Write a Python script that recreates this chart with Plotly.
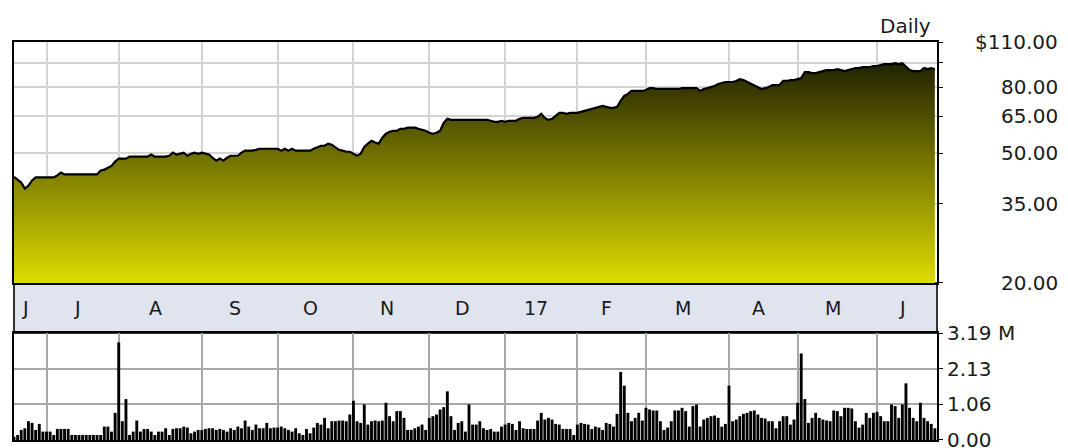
import numpy as np
import pandas as pd
import plotly.graph_objects as go

# trading days, Jun 2016 - Jun 2017
holidays = ["2016-07-04", "2016-09-05", "2016-11-24", "2016-12-26", "2017-01-02",
            "2017-01-16", "2017-02-20", "2017-04-14", "2017-05-29"]
days = pd.bdate_range("2016-06-20", "2017-06-23")
days = days[~days.isin(pd.to_datetime(holidays))]

month_labels = ["J", "J", "A", "S", "O", "N", "D", "17", "F", "M", "A", "M", "J"]

price = [
    42.4, 41.6, 40.7, 39.0, 39.8, 41.3, 42.2, 42.2, 42.2, 42.2, 42.2, 42.2, 42.8, 43.7, 43.1, 43.1,
    43.1, 43.1, 43.1, 43.1, 43.1, 43.1, 43.1, 43.1, 44.3, 44.6, 45.2, 45.8, 47.2, 48.2, 48.2, 48.2,
    48.9, 48.9, 48.9, 48.9, 48.9, 48.9, 49.6, 48.9, 48.9, 48.9, 48.9, 49.2, 50.3, 49.6, 49.9, 50.3,
    49.2, 49.9, 50.3, 49.9, 50.3, 49.9, 49.6, 48.5, 47.5, 48.2, 47.5, 48.5, 49.2, 49.2, 49.2, 50.3,
    51.0, 51.0, 51.0, 51.3, 51.7, 51.7, 51.7, 51.7, 51.7, 51.7, 51.0, 51.7, 51.0, 51.7, 51.0, 51.0,
    51.0, 51.0, 51.0, 51.7, 52.4, 52.8, 52.8, 53.6, 53.2, 52.1, 51.3, 51.0, 50.6, 50.6, 49.9, 49.2,
    49.9, 52.4, 53.6, 54.7, 54.0, 53.6, 55.9, 57.5, 58.3, 58.7, 58.7, 59.5, 59.5, 60.0, 60.0, 60.0,
    59.5, 59.1, 58.7, 57.9, 57.5, 57.9, 58.7, 62.1, 63.9, 63.4, 63.4, 63.4, 63.4, 63.4, 63.4, 63.4,
    63.4, 63.4, 63.4, 63.4, 63.0, 62.5, 62.5, 63.0, 62.5, 63.0, 63.0, 63.0, 63.9, 64.3, 64.3, 64.3,
    64.3, 64.8, 66.2, 64.3, 63.4, 63.9, 65.2, 66.6, 66.6, 66.2, 66.6, 66.6, 66.6, 67.1, 67.6, 68.0,
    68.5, 69.0, 69.5, 70.0, 69.5, 69.0, 69.0, 69.5, 72.5, 75.1, 76.2, 77.8, 77.8, 77.8, 77.8, 78.3,
    79.4, 79.4, 78.9, 78.9, 78.9, 78.9, 78.9, 78.9, 78.9, 79.4, 79.4, 79.4, 79.4, 79.4, 77.8, 78.9,
    79.4, 80.0, 80.6, 81.7, 82.3, 82.9, 82.9, 82.9, 83.5, 84.6, 84.0, 82.9, 81.7, 81.1, 80.0, 78.9,
    79.4, 80.0, 81.1, 81.1, 81.1, 83.5, 83.5, 84.0, 84.0, 84.6, 85.2, 88.9, 88.9, 88.3, 88.3, 88.9,
    89.5, 90.2, 90.2, 90.2, 90.8, 90.2, 89.5, 90.2, 90.8, 91.5, 91.5, 92.1, 92.1, 92.1, 92.8, 92.8,
    93.4, 94.1, 94.1, 94.1, 94.7, 94.1, 94.7, 92.1, 90.2, 89.5, 89.5, 89.5, 91.5, 90.8, 91.5, 90.8,
]

# volume in millions
volume = [
    0.10, 0.15, 0.30, 0.35, 0.56, 0.51, 0.30, 0.48, 0.25, 0.25, 0.25, 0.15, 0.33, 0.33, 0.33, 0.33,
    0.15, 0.15, 0.15, 0.15, 0.15, 0.15, 0.15, 0.15, 0.15, 0.40, 0.40, 0.25, 0.81, 2.91, 0.56, 1.22,
    0.15, 0.25, 0.58, 0.25, 0.33, 0.33, 0.25, 0.15, 0.25, 0.25, 0.35, 0.15, 0.33, 0.35, 0.35, 0.40,
    0.37, 0.20, 0.25, 0.30, 0.30, 0.33, 0.35, 0.35, 0.30, 0.33, 0.30, 0.25, 0.35, 0.30, 0.40, 0.35,
    0.58, 0.40, 0.30, 0.46, 0.35, 0.35, 0.51, 0.35, 0.37, 0.37, 0.40, 0.35, 0.30, 0.25, 0.35, 0.20,
    0.15, 0.33, 0.20, 0.37, 0.51, 0.46, 0.66, 0.35, 0.56, 0.56, 0.58, 0.58, 0.56, 0.76, 1.17, 0.56,
    0.51, 1.06, 0.46, 0.56, 0.58, 0.56, 0.58, 1.11, 0.71, 0.56, 0.86, 0.86, 0.66, 0.30, 0.30, 0.35,
    0.40, 0.46, 0.30, 0.66, 0.71, 0.76, 0.91, 0.98, 1.45, 0.71, 0.30, 0.51, 0.56, 0.25, 1.06, 0.46,
    0.46, 0.56, 0.35, 0.30, 0.33, 0.25, 0.25, 0.40, 0.46, 0.51, 0.48, 0.30, 0.56, 0.35, 0.33, 0.33,
    0.33, 0.58, 0.81, 0.61, 0.66, 0.61, 0.48, 0.46, 0.33, 0.33, 0.33, 0.15, 0.46, 0.51, 0.48, 0.46,
    0.33, 0.40, 0.37, 0.30, 0.51, 0.48, 0.40, 0.78, 2.03, 1.62, 0.81, 0.56, 0.66, 0.81, 0.58, 0.96,
    0.91, 0.88, 0.88, 0.56, 0.30, 0.37, 0.56, 0.88, 0.88, 0.96, 0.86, 0.40, 1.01, 1.06, 0.40, 0.61,
    0.66, 0.71, 0.73, 0.66, 0.40, 0.48, 1.62, 0.56, 0.61, 0.71, 0.78, 0.81, 0.86, 0.88, 0.76, 0.66,
    0.64, 0.56, 0.56, 0.35, 0.56, 0.71, 0.71, 0.46, 0.61, 1.11, 2.58, 1.22, 0.51, 0.66, 0.81, 0.66,
    0.61, 0.58, 0.56, 0.88, 0.86, 0.71, 0.96, 0.96, 0.94, 0.56, 0.37, 0.46, 0.81, 0.66, 0.81, 0.84,
    0.71, 0.56, 0.56, 1.06, 1.01, 0.66, 1.06, 1.69, 0.96, 0.66, 0.56, 1.11, 0.66, 0.56, 0.48, 0.35,
]

price_ticks = [20, 35, 50, 65, 80, 95, 110]
price_labels = {110: "$110.00", 80: "80.00", 65: "65.00", 50: "50.00", 35: "35.00", 20: "20.00"}
vol_ticks = [0, 1.06, 2.13, 3.19]
vol_labels = ["0.00", "1.06", "2.13", "3.19 M"]

idx = np.arange(len(days))
months = pd.Series(idx, index=days).groupby(days.to_period("M"))
month_starts = [g.iloc[0] for _, g in months][1:]
month_mids = [g.mean() for _, g in months]

FONT = "DejaVu Sans"
PRICE_DOM = [0.3945, 1.0]
VOL_DOM = [0.0, 0.2688]
XR = [0, 255.6]

fig = go.Figure()
fig.add_trace(
    go.Scatter(
        x=idx, y=price, mode="lines", xaxis="x", yaxis="y",
        line=dict(color="black", width=2.2),
        fill="tozeroy",
        fillgradient=dict(type="vertical", start=20, stop=110,
                          colorscale=[[0, "#dcdc00"], [1, "#101000"]]),
        hoverinfo="skip",
    )
)
fig.add_trace(
    go.Bar(x=idx, y=volume, xaxis="x2", yaxis="y2", width=0.8,
           marker=dict(color="black", line=dict(width=0)), hoverinfo="skip")
)

grid_light = "#d4d4d4"
grid_dark = "#a8a8a8"
# page body has an 8px margin, so the figure is 8px smaller and margins shifted
fig.update_layout(
    width=1060, height=440,
    margin=dict(l=6, r=131, t=34, b=8, autoexpand=False),
    paper_bgcolor="white", plot_bgcolor="white",
    showlegend=False,
    font=dict(family=FONT, size=20, color="#1a1a1a"),
    xaxis=dict(domain=[0, 1], range=XR, anchor="y", tickvals=month_starts, showticklabels=False,
               showgrid=True, gridcolor=grid_light, gridwidth=2, zeroline=False, ticks="",
               showline=True, linecolor="black", linewidth=2, mirror=True),
    yaxis=dict(domain=PRICE_DOM, type="log", range=[np.log10(20), np.log10(110)], side="right",
               anchor="x", tickvals=price_ticks, showticklabels=False, ticks="outside", ticklen=4,
               tickcolor="black", showgrid=True, gridcolor=grid_light, gridwidth=2,
               showline=True, linecolor="black", linewidth=2, mirror=True),
    xaxis2=dict(domain=[0, 1], range=XR, anchor="y2", tickvals=month_starts, showticklabels=False,
                showgrid=True, gridcolor=grid_dark, gridwidth=2, zeroline=False, ticks="",
                showline=True, linecolor="black", linewidth=2, mirror=True),
    yaxis2=dict(domain=VOL_DOM, range=[0, 3.19], side="right", anchor="x2",
                tickvals=vol_ticks, ticktext=vol_labels, ticks="outside", ticklen=4,
                tickcolor="black", showgrid=True, gridcolor=grid_dark, gridwidth=2,
                ticklabeloverflow="allow", automargin=False,
                zeroline=False, showline=True, linecolor="black", linewidth=2, mirror=True),
)

# month band between the panels
fig.add_shape(type="rect", xref="paper", yref="paper", x0=0, x1=1, y0=VOL_DOM[1], y1=PRICE_DOM[0],
              fillcolor="#dfe4ee", line=dict(color="#333333", width=2), layer="below")
for lab, mid in zip(month_labels, month_mids):
    fig.add_annotation(x=mid, xref="x", y=(VOL_DOM[1] + PRICE_DOM[0]) / 2, yref="paper",
                       yanchor="middle", xshift=-3, text=lab, showarrow=False,
                       font=dict(size=19))

# right-aligned price labels
for v, t in price_labels.items():
    fig.add_annotation(x=1.1333, xref="paper", xanchor="right", y=np.log10(v), yref="y",
                       yanchor="middle", text=t, showarrow=False)

fig.add_annotation(x=0.9957, xref="paper", xanchor="right", y=1.0, yref="paper",
                   yanchor="bottom", yshift=2, text="Daily", showarrow=False)

fig.write_html("out.html")
